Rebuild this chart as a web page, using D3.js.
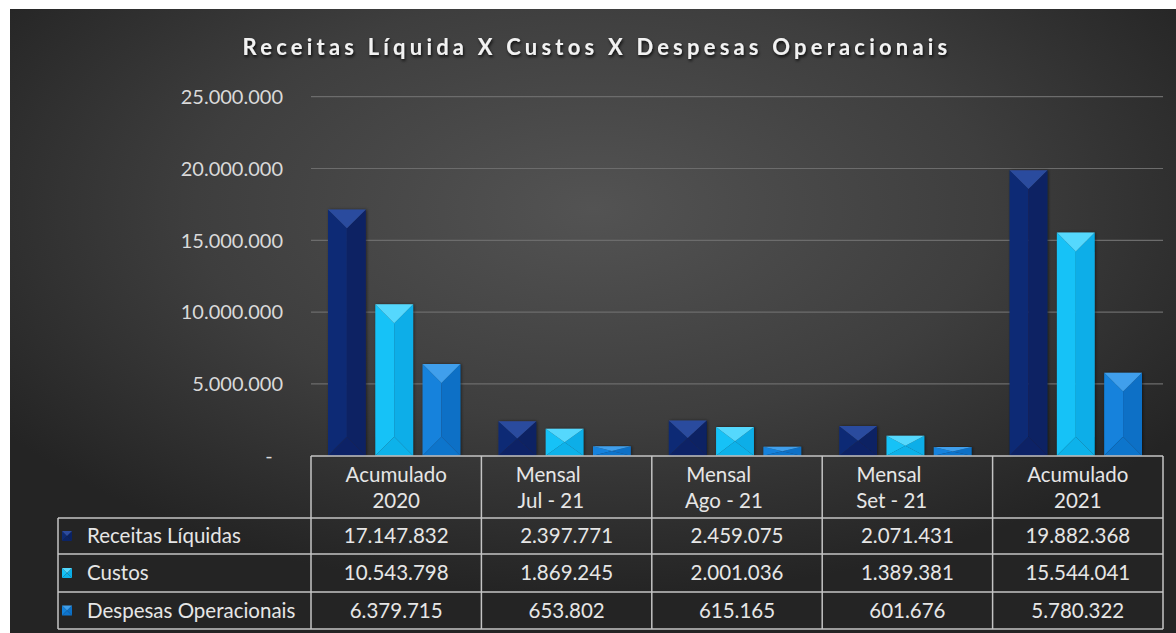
<!DOCTYPE html>
<html>
<head>
<meta charset="utf-8">
<script src="https://cdn.jsdelivr.net/npm/d3@7"></script>
<style>
  body { margin: 0; background: #fff; }
  svg { display: block; }
  text { font-family: Lato, "Noto Sans", sans-serif; white-space: pre; }
</style>
</head>
<body>
<svg id="chart"></svg>
<script>
// dados
var categories = [["Acumulado", "2020"], ["Mensal\u00a0\u00a0\u00a0\u00a0\u00a0\u00a0\u00a0", "Jul - 21\u00a0\u00a0\u00a0\u00a0\u00a0\u00a0"], ["Mensal\u00a0\u00a0\u00a0\u00a0\u00a0\u00a0\u00a0", "Ago - 21\u00a0\u00a0\u00a0\u00a0\u00a0"], ["Mensal\u00a0\u00a0\u00a0\u00a0\u00a0\u00a0\u00a0", "Set - 21\u00a0\u00a0\u00a0\u00a0\u00a0\u00a0"], ["Acumulado", "2021"]];
var seriesNames = ["Receitas Líquidas", "Custos", "Despesas Operacionais"];
var receitas = [17147832, 2397771, 2459075, 2071431, 19882368];
var custos = [10543798, 1869245, 2001036, 1389381, 15544041];
var despesas = [6379715, 653802, 615165, 601676, 5780322];
var yTicks = [0, 5000000, 10000000, 15000000, 20000000, 25000000];
var title = "Receitas Líquida X Custos X Despesas Operacionais";

var W = 1176, H = 633;
var svg = d3.select('#chart').attr('width', W).attr('height', H);

var ptBR = d3.formatLocale({decimal: ",", thousands: ".", grouping: [3], currency: ["R$", ""]});
var fmt = ptBR.format(",d");

var defs = svg.append('defs');
var bg = defs.append('radialGradient').attr('id', 'bg')
	.attr('cx', '50%').attr('cy', '32%').attr('r', '62%')
	.attr('fx', '50%').attr('fy', '32%');
bg.append('stop').attr('offset', '0%').attr('stop-color', '#535353');
bg.append('stop').attr('offset', '55%').attr('stop-color', '#3e3e3e');
bg.append('stop').attr('offset', '100%').attr('stop-color', '#242424');

var sh = defs.append('filter').attr('id', 'tshadow').attr('x', '-5%').attr('y', '-50%').attr('width', '110%').attr('height', '200%');
sh.append('feDropShadow').attr('dx', 1).attr('dy', 2).attr('stdDeviation', 1.5).attr('flood-color', '#000').attr('flood-opacity', 0.8);

var bsh = defs.append('filter').attr('id', 'bshadow').attr('x', '-20%').attr('y', '-10%').attr('width', '140%').attr('height', '120%');
bsh.append('feDropShadow').attr('dx', 1).attr('dy', 0).attr('stdDeviation', 1.5).attr('flood-color', '#000').attr('flood-opacity', 0.5);

svg.append('rect')
	.attr('x', 10).attr('y', 9)
	.attr('width', W - 10).attr('height', H - 9)
	.attr('fill', 'url(#bg)');

// titulo
svg.append('text')
	.attr('x', 597).attr('y', 55)
	.attr('text-anchor', 'middle')
	.attr('font-size', 22).attr('font-weight', 'bold')
	.attr('letter-spacing', 4.2)
	.attr('fill', '#f2f2f2')
	.attr('filter', 'url(#tshadow)')
	.text(title);

var plotLeft = 311, plotRight = 1163, tableLeft = 58;
var y = d3.scaleLinear().domain([0, 25000000]).range([455.7, 96.7]);
var x0 = d3.scaleBand().domain(d3.range(categories.length)).range([plotLeft, plotRight]);
var x1 = d3.scaleBand().domain(seriesNames).range([17, x0.bandwidth() - 21]).paddingInner(0.2);

// grade
svg.selectAll('line.grid')
	.data(yTicks.slice(1)).enter()
	.append('line')
	.attr('x1', plotLeft).attr('x2', plotRight)
	.attr('y1', function(d) { return y(d); })
	.attr('y2', function(d) { return y(d); })
	.attr('stroke', '#6c6c6c').attr('stroke-width', 1.2);

svg.selectAll('text.ytick')
	.data(yTicks).enter()
	.append('text')
	.attr('x', 283)
	.attr('y', function(d) { return y(d); })
	.attr('dy', '0.36em')
	.attr('text-anchor', 'end')
	.attr('font-size', 20)
	.attr('fill', '#d9d9d9')
	.text(function(d) { return d === 0 ? '-\u00a0\u00a0' : fmt(d); });

// barras com chanfro
var colors = {
	"Receitas Líquidas": {left: '#0d2b74', right: '#0a2263', top: '#2c4b9e', bottom: '#0b2466'},
	"Custos": {left: '#14c2f7', right: '#0aaee8', top: '#55d8fd', bottom: '#0db2ea'},
	"Despesas Operacionais": {left: '#1282dc', right: '#0b70c6', top: '#3f9fec', bottom: '#0e74cc'}
};
var values = {"Receitas Líquidas": receitas, "Custos": custos, "Despesas Operacionais": despesas};

function bevel(g, x, yTop, w, h, c) {
	var b = Math.min(w / 2, h / 2);
	var cx = x + w / 2, yb = yTop + h;
	var faces = [
		[[x, yTop], [cx, yTop + b], [cx, yb - b], [x, yb], c.left],
		[[x + w, yTop], [cx, yTop + b], [cx, yb - b], [x + w, yb], c.right],
		[[x, yb], [x + w, yb], [cx, yb - b], c.bottom],
		[[x, yTop], [x + w, yTop], [cx, yTop + b], c.top]
	];
	faces.forEach(function(f) {
		var pts = f.slice(0, f.length - 1);
		g.append('polygon')
			.attr('points', pts.map(function(p) { return p.join(','); }).join(' '))
			.attr('fill', f[f.length - 1]);
	});
}

var bars = svg.append('g');
categories.forEach(function(cat, i) {
	seriesNames.forEach(function(s) {
		var v = values[s][i];
		var g = bars.append('g').attr('filter', 'url(#bshadow)');
		bevel(g, x0(i) + x1(s), y(v), x1.bandwidth(), y(0) - y(v), colors[s]);
	});
});

// tabela de dados
var rowTop = [456, 518, 554, 592, 629];
var table = svg.append('g');
var lineColor = '#c4c4c4';

table.append('line').attr('x1', plotLeft).attr('x2', plotRight).attr('y1', rowTop[0]).attr('y2', rowTop[0])
	.attr('stroke', lineColor).attr('stroke-width', 1.5);
rowTop.slice(1).forEach(function(yy) {
	table.append('line').attr('x1', tableLeft).attr('x2', plotRight).attr('y1', yy).attr('y2', yy)
		.attr('stroke', lineColor).attr('stroke-width', 1.5);
});
var colEdges = d3.range(categories.length + 1).map(function(i) {
	return i < categories.length ? x0(i) : plotRight;
});
colEdges.forEach(function(xx) {
	table.append('line').attr('x1', xx).attr('x2', xx).attr('y1', rowTop[0]).attr('y2', rowTop[4])
		.attr('stroke', lineColor).attr('stroke-width', 1.5);
});
table.append('line').attr('x1', tableLeft).attr('x2', tableLeft).attr('y1', rowTop[1]).attr('y2', rowTop[4])
	.attr('stroke', lineColor).attr('stroke-width', 1.5);

categories.forEach(function(cat, i) {
	cat.forEach(function(line, k) {
		table.append('text')
			.attr('x', x0(i) + x0.bandwidth() / 2)
			.attr('y', 482 + k * 26)
			.attr('text-anchor', 'middle')
			.attr('font-size', 20.5)
			.attr('fill', '#e6e6e6')
			.text(line);
	});
});

seriesNames.forEach(function(s, r) {
	var cy = (rowTop[r + 1] + rowTop[r + 2]) / 2;
	var kg = table.append('g');
	bevel(kg, 62, cy - 5, 10, 10, colors[s]);
	table.append('text')
		.attr('x', 87).attr('y', cy).attr('dy', '0.36em')
		.attr('font-size', 20.5)
		.attr('fill', '#e6e6e6')
		.text(s);
	values[s].forEach(function(v, i) {
		table.append('text')
			.attr('x', x0(i) + x0.bandwidth() / 2)
			.attr('y', cy).attr('dy', '0.36em')
			.attr('text-anchor', 'middle')
			.attr('font-size', 20.5)
			.attr('fill', '#e6e6e6')
			.text(fmt(v));
	});
});
</script>
</body>
</html>
